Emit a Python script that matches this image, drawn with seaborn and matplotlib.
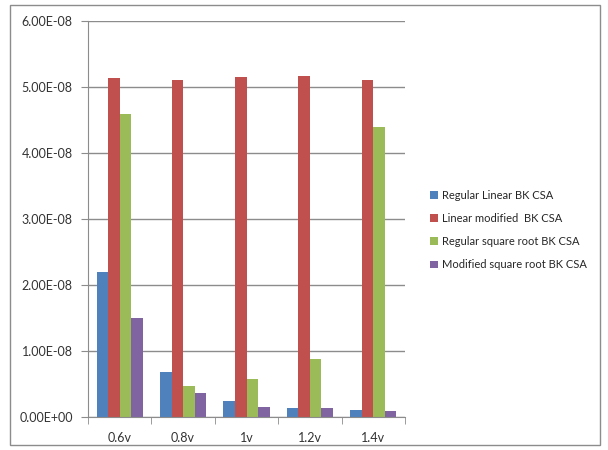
import pandas as pd
import numpy as np
import matplotlib
matplotlib.use("Agg")
import matplotlib.pyplot as plt
import seaborn as sns
from matplotlib.patches import Rectangle

# Datos
voltajes = ["0.6v", "0.8v", "1v", "1.2v", "1.4v"]
series = ["Regular Linear BK CSA", "Linear modified  BK CSA",
          "Regular square root BK CSA", "Modified square root BK CSA"]
regular_linear = [2.20e-8, 0.68e-8, 0.24e-8, 0.14e-8, 0.11e-8]
linear_modified = [5.13e-8, 5.10e-8, 5.15e-8, 5.17e-8, 5.11e-8]
regular_sqrt = [4.59e-8, 0.47e-8, 0.58e-8, 0.88e-8, 4.40e-8]
modified_sqrt = [1.50e-8, 0.36e-8, 0.15e-8, 0.14e-8, 0.09e-8]
colores = ["#4F81BD", "#C0504D", "#9BBB59", "#8064A2"]
yticks = [0, 1e-8, 2e-8, 3e-8, 4e-8, 5e-8, 6e-8]
ytick_labels = ["0.00E+00", "1.00E-08", "2.00E-08", "3.00E-08",
                "4.00E-08", "5.00E-08", "6.00E-08"]

valores = [regular_linear, linear_modified, regular_sqrt, modified_sqrt]
filas = []
for s, vals in zip(series, valores):
    for v, val in zip(voltajes, vals):
        filas.append({"Voltaje": v, "Serie": s, "Valor": val})
df = pd.DataFrame(filas)

sns.set_style("white")
plt.rcParams["font.family"] = ["Lato", "DejaVu Sans"]

fig = plt.figure(figsize=(6.08, 4.5), dpi=100)
ax = fig.add_axes([88 / 608, 1 - 417 / 450, (405 - 88) / 608, (417 - 21) / 450])

sns.barplot(data=df, x="Voltaje", y="Valor", hue="Serie", hue_order=series,
            order=voltajes, palette=colores, width=0.73, gap=0,
            saturation=1, ax=ax, errorbar=None, linewidth=0)

ax.set_ylim(0, 6e-8)
ax.set_xlim(-0.5, 4.5)
ax.set_yticks(yticks)
ax.set_yticklabels(ytick_labels)
ax.set_xlabel("")
ax.set_ylabel("")
ax.grid(axis="y", color="#8c8c8c", linewidth=1)
ax.set_axisbelow(True)
for lado in ["top", "right"]:
    ax.spines[lado].set_visible(False)
ax.spines["left"].set_color("#8c8c8c")
ax.spines["bottom"].set_color("#8c8c8c")

# marcas del eje x entre categorias
ax.set_xticks(np.arange(-0.5, 5, 1), minor=True)
ax.tick_params(axis="x", which="major", length=0, pad=11, labelsize=9,
               colors="#333333")
ax.tick_params(axis="x", which="minor", length=5, color="#8c8c8c",
               direction="out", bottom=True)
ax.tick_params(axis="y", length=5, color="#8c8c8c", direction="out",
               left=True, labelsize=9, labelcolor="#333333", pad=6)

ax.legend(loc="center left", bbox_to_anchor=(420 / 608, 1 - 230 / 450),
          bbox_transform=fig.transFigure, frameon=False, fontsize=8,
          handlelength=0.7, handleheight=0.7, handletextpad=0.4,
          labelspacing=1.1)

# borde exterior del grafico
fig.patches.append(Rectangle((10 / 608, 5 / 450), 590 / 608, 440 / 450,
                             transform=fig.transFigure, fill=False,
                             edgecolor="#8c8c8c", linewidth=1))

fig.savefig("out.png", dpi=100)
